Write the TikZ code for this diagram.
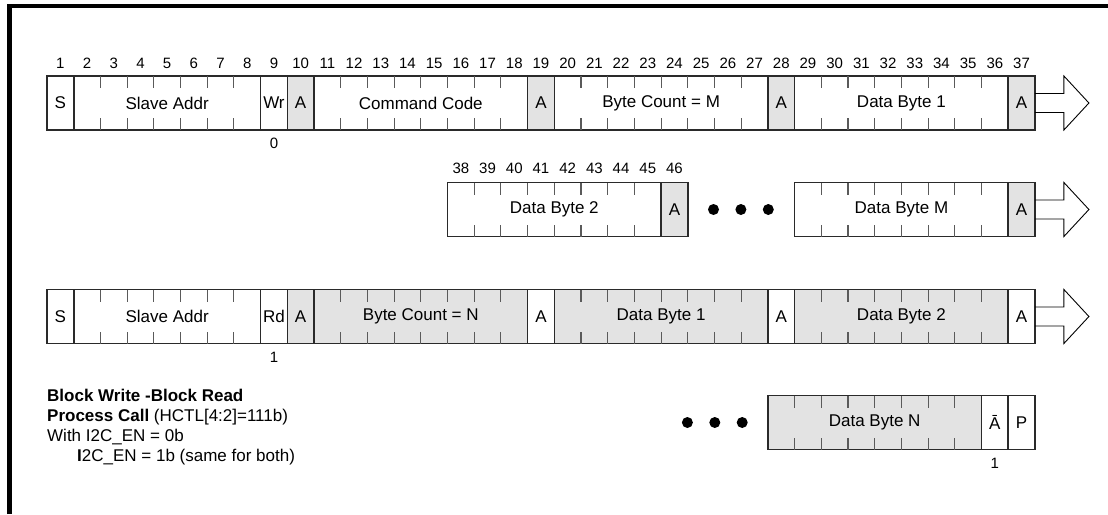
\documentclass[tikz,border=0pt]{standalone}
\usepackage{fontspec}
\setmainfont{Liberation Sans}
\usetikzlibrary{positioning,calc}
\definecolor{ackc}{HTML}{E3E3E3}
\definecolor{edgec}{HTML}{2A2A2A}
\definecolor{tickc}{HTML}{5A5A5A}
\tikzset{
  fld/.style={rectangle, draw=edgec, line width=1.6pt, fill=white, minimum height=54pt,
    inner sep=0pt, outer sep=0pt, font=\fontsize{17}{20}\selectfont},
  ackf/.style={fld, fill=ackc},
  bitno/.style={inner sep=0pt, font=\fontsize{15}{17}\selectfont},
  tck/.style={tickc, line width=1.1pt},
  dot/.style={circle, fill=black, inner sep=0pt, minimum size=11pt},
  bigarrow/.style={draw=black, line width=0.9pt},
  frame/.style={black, line width=4.5pt},
  note/.style={inner sep=0pt, align=left, font=\fontsize{17}{20}\selectfont},
}
\newcommand{\bw}{26.7}
% bit field: name, first bit, last bit, row y, style, label
\newcommand{\bitfield}[6]{%
  \node[#5, minimum width={(#3-#2+1)*\bw pt}] (#1) at ({47+(#2+#3-1)*\bw/2},#4) {#6};
  \ifnum#3>#2\relax
    \pgfmathtruncatemacro\nt{#3-#2}%
    \foreach \k in {1,...,\nt}
      \draw[tck] ($(#1.north west)+(\k*\bw,0)$) -- ++(0,12)
                 ($(#1.south west)+(\k*\bw,0)$) -- ++(0,-12);
  \fi}
\newcommand{\bigarr}[1]{%
  \draw[bigarrow] ($(#1.east)+(0,-9.5)$) -- ++(29,0) -- ++(0,-17.5)
    -- ($(#1.east)+(54,0)$) -- ($(#1.east)+(29,27)$) -- ++(0,-17.5)
    -- ($(#1.east)+(0,9.5)$);}

\begin{document}
\begin{tikzpicture}[x=1pt,y=-1pt]
  \useasboundingbox (0,0) rectangle (1108,514);
  \draw[frame] (9.7,514) -- (9.7,6) -- (1108,6);
  % write part
  \foreach \b in {1,...,37} \node[bitno] (t\b) at ({47+(\b-0.5)*\bw},63) {\b};
  \bitfield{s1}{1}{1}{103}{fld}{S}
  \bitfield{sa1}{2}{8}{103}{fld}{Slave Addr}
  \bitfield{wr}{9}{9}{103}{fld}{Wr}
  \bitfield{a10}{10}{10}{103}{ackf}{A}
  \bitfield{cc}{11}{18}{103}{fld}{Command Code}
  \bitfield{a19}{19}{19}{103}{ackf}{A}
  \bitfield{bcm}{20}{27}{103}{fld}{Byte Count = M}
  \bitfield{a28}{28}{28}{103}{ackf}{A}
  \bitfield{db1}{29}{36}{103}{fld}{Data Byte 1}
  \bitfield{a37}{37}{37}{103}{ackf}{A}
  \bigarr{a37}
  \node[bitno, below=8pt of wr] (wrv) {0};
  % write data bytes
  \foreach \b in {38,...,46} \node[bitno] (t\b) at ({47+(\b-22.5)*\bw},168) {\b};
  \bitfield{db2}{16}{23}{209.5}{fld}{Data Byte 2}
  \bitfield{a46}{24}{24}{209.5}{ackf}{A}
  \bitfield{dbm}{29}{36}{209.5}{fld}{Data Byte M}
  \bitfield{am}{37}{37}{209.5}{ackf}{A}
  \bigarr{am}
  \node[dot, right=20pt of a46] (d1) {};
  \node[dot, right=16pt of d1] (d2) {};
  \node[dot, right=16pt of d2] (d3) {};
  % read part
  \bitfield{s2}{1}{1}{316.5}{fld}{S}
  \bitfield{sa2}{2}{8}{316.5}{fld}{Slave Addr}
  \bitfield{rd}{9}{9}{316.5}{fld}{Rd}
  \bitfield{ra10}{10}{10}{316.5}{ackf}{A}
  \bitfield{bcn}{11}{18}{316.5}{ackf}{Byte Count = N}
  \bitfield{ra19}{19}{19}{316.5}{fld}{A}
  \bitfield{rdb1}{20}{27}{316.5}{ackf}{Data Byte 1}
  \bitfield{ra28}{28}{28}{316.5}{fld}{A}
  \bitfield{rdb2}{29}{36}{316.5}{ackf}{Data Byte 2}
  \bitfield{ra37}{37}{37}{316.5}{fld}{A}
  \bigarr{ra37}
  \node[bitno, below=8pt of rd] (rdv) {1};
  % last byte
  \bitfield{dbn}{28}{35}{422.5}{ackf}{Data Byte N}
  \bitfield{nack}{36}{36}{422.5}{fld}{Ā}
  \bitfield{stp}{37}{37}{422.5}{fld}{P}
  \node[bitno, below=8pt of nack] (nackv) {1};
  \node[dot, left=20pt of dbn] (e3) {};
  \node[dot, left=16pt of e3] (e2) {};
  \node[dot, left=16pt of e2] (e1) {};
  \node[note, anchor=north west] (cap) at (47,389)
    {\textbf{Block Write -Block Read}\\
     \textbf{Process Call} (HCTL[4:2]=111b)\\
     With I2C\_EN = 0b\\
     \hspace*{30pt}\textbf{I}2C\_EN = 1b (same for both)};
\end{tikzpicture}
\end{document}
